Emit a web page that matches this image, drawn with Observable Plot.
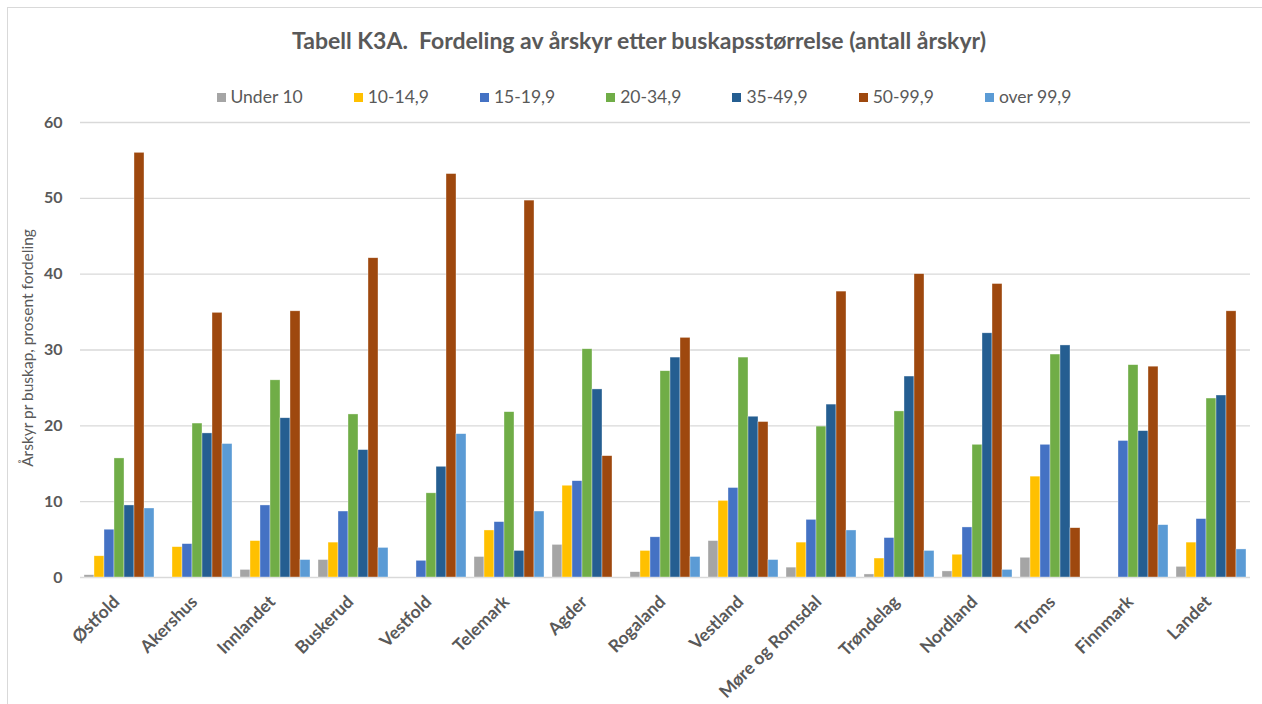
<!DOCTYPE html>
<html>
<head>
<meta charset="utf-8">
<script src="https://cdn.jsdelivr.net/npm/d3@7"></script>
<script src="https://cdn.jsdelivr.net/npm/@observablehq/plot@0.6"></script>
<style>
  html, body { margin: 0; padding: 0; background: #fff; overflow: hidden; }
  #wrap { position: relative; width: 1262px; height: 704px; font-family: Lato, "Open Sans", sans-serif; color: #595959; }
  #frame { position: absolute; left: 7px; top: 7px; width: 1270px; height: 710px; border: 1px solid #D9D9D9; box-sizing: border-box; }
  #title { position: absolute; left: 0; width: 1262px; top: 26px; text-align: center; font-size: 23px; font-weight: bold; line-height: 28px; white-space: pre; padding-left: 16px; box-sizing: border-box; }
  #legend { position: absolute; left: 0; width: 1262px; top: 86px; display: flex; justify-content: center; gap: 51px; font-size: 17.5px; line-height: 22px; padding-left: 26px; box-sizing: border-box; }
  .item { display: flex; align-items: center; gap: 5px; }
  .sw { width: 9px; height: 9px; display: inline-block; }
  #ylabel { position: absolute; left: 27px; top: 348px; transform: translate(-50%, -50%) rotate(-90deg); font-size: 15.5px; white-space: nowrap; }
  #chart { position: absolute; left: 0; top: 110px; }
  #chart svg { font-family: Lato, "Open Sans", sans-serif; }
</style>
</head>
<body>
<div id="wrap">
  <div id="frame"></div>
  <div id="title"></div>
  <div id="legend"></div>
  <div id="ylabel"></div>
  <div id="chart"></div>
</div>
<script>
const titleText = "Tabell K3A.  Fordeling av årskyr etter buskapsstørrelse (antall årskyr)";
const yLabel = "Årskyr pr buskap, prosent fordeling";
const categories = ["Østfold","Akershus","Innlandet","Buskerud","Vestfold","Telemark","Agder","Rogaland","Vestland","Møre og Romsdal","Trøndelag","Nordland","Troms","Finnmark","Landet"];
const series = ["Under 10","10-14,9","15-19,9","20-34,9","35-49,9","50-99,9","over 99,9"];
const colors = ["#A5A5A5","#FFC000","#4472C4","#70AD47","#255E91","#9E480E","#5B9BD5"];
const yTicks = [0, 10, 20, 30, 40, 50, 60];

const under10 = [0.3, null, 1.0, 2.3, null, 2.7, 4.3, 0.7, 4.8, 1.3, 0.4, 0.8, 2.6, null, 1.4];
const s10_14  = [2.8, 4.0, 4.8, 4.6, null, 6.2, 12.1, 3.5, 10.1, 4.6, 2.5, 3.0, 13.3, null, 4.6];
const s15_19  = [6.3, 4.4, 9.5, 8.7, 2.2, 7.3, 12.7, 5.3, 11.8, 7.6, 5.2, 6.6, 17.5, 18.0, 7.7];
const s20_34  = [15.7, 20.3, 26.0, 21.5, 11.1, 21.8, 30.1, 27.2, 29.0, 19.9, 21.9, 17.5, 29.4, 28.0, 23.6];
const s35_49  = [9.5, 19.0, 21.0, 16.8, 14.6, 3.5, 24.8, 29.0, 21.2, 22.8, 26.5, 32.2, 30.6, 19.3, 24.0];
const s50_99  = [56.0, 34.9, 35.1, 42.1, 53.2, 49.7, 16.0, 31.6, 20.5, 37.7, 40.0, 38.7, 6.5, 27.8, 35.1];
const over99  = [9.1, 17.6, 2.3, 3.9, 18.9, 8.7, null, 2.7, 2.3, 6.2, 3.5, 1.0, null, 6.9, 3.7];

const seriesValues = [under10, s10_14, s15_19, s20_34, s35_49, s50_99, over99];

const rows = [];
categories.forEach((c, i) => {
  series.forEach((s, j) => {
    const v = seriesValues[j][i];
    if (v != null) rows.push({cat: c, series: s, value: v});
  });
});

document.getElementById("title").textContent = titleText;
document.getElementById("ylabel").textContent = yLabel;
const legend = document.getElementById("legend");
series.forEach((s, j) => {
  const it = document.createElement("div");
  it.className = "item";
  const sw = document.createElement("span");
  sw.className = "sw";
  sw.style.background = colors[j];
  const t = document.createElement("span");
  t.textContent = s;
  it.appendChild(sw); it.appendChild(t);
  legend.appendChild(it);
});

const chart = Plot.plot({
  width: 1262,
  height: 594,
  marginTop: 12,
  marginBottom: 127,
  marginLeft: 80,
  marginRight: 12,
  fx: {domain: categories, padding: 0, axis: null, label: null},
  x: {domain: series, paddingInner: 0, paddingOuter: 0.125, axis: null},
  y: {domain: [0, 60], axis: null},
  color: {domain: series, range: colors},
  marks: [
    Plot.gridY(yTicks.slice(1), {stroke: "#D9D9D9", strokeOpacity: 1, strokeWidth: 1.3}),
    Plot.ruleY([0], {stroke: "#D9D9D9", strokeWidth: 1.6}),
    Plot.barY(rows, {fx: "cat", x: "series", y: "value", fill: "series", stroke: "white", strokeWidth: 0.6, strokeOpacity: 0.6}),
    Plot.axisY(yTicks, {tickSize: 0, tickPadding: 18, fontSize: 16, fontWeight: "bold", color: "#595959", label: null}),
    Plot.text(categories, {fx: d => d, text: d => d, frameAnchor: "bottom", rotate: -45, textAnchor: "end", lineAnchor: "middle", dx: -3, dy: 21.5, fontSize: 17.5, fontWeight: "bold", fill: "#595959"})
  ]
});
document.getElementById("chart").appendChild(chart);
</script>
</body>
</html>
